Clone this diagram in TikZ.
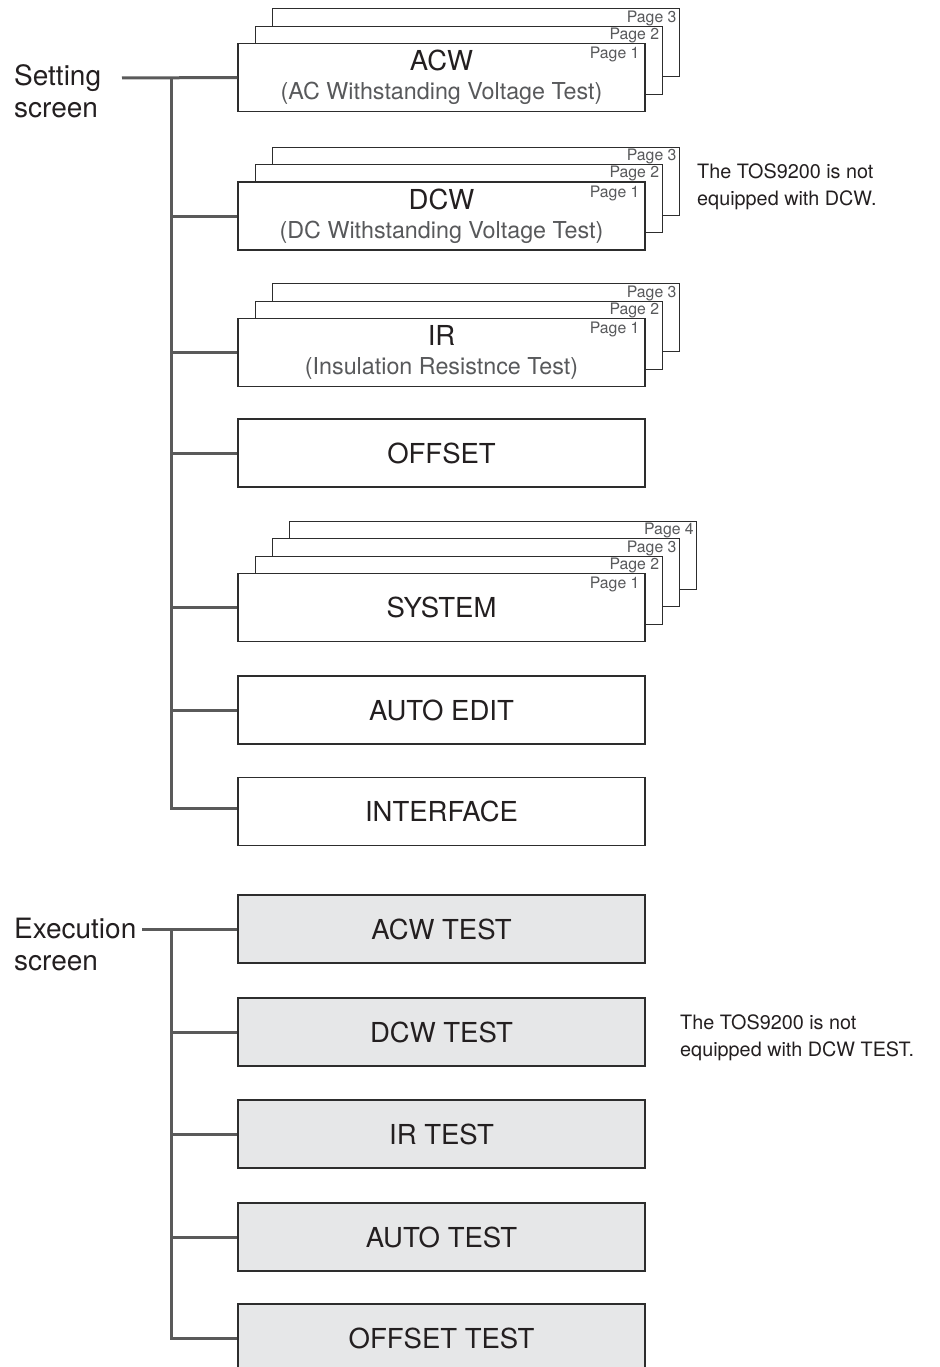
\documentclass[tikz,border=0pt]{standalone}
\usepackage{fontspec}
\setmainfont{TeX Gyre Heros}

\definecolor{linegray}{RGB}{90,90,90}
\definecolor{boxgray}{RGB}{230,231,232}
\definecolor{textdark}{RGB}{35,31,32}
\definecolor{textgray}{RGB}{88,89,91}
\definecolor{edgegray}{RGB}{45,45,45}

\newcommand{\subline}[1]{{\fontsize{23.3}{29}\selectfont\color{textgray}#1}}

\tikzset{
    screenbox/.style={draw=edgegray, line width=1.3pt, fill=white, minimum width=407pt, minimum height=68pt,
        inner sep=0pt, align=center, text=textdark, font=\fontsize{27.5}{29}\selectfont},
    testbox/.style={screenbox, fill=boxgray},
    pagebox/.style={draw=edgegray, line width=1.1pt, fill=white, minimum width=407pt, minimum height=68pt, inner sep=0pt},
    pagelabel/.style={anchor=north east, inner sep=0pt, text=textgray, font=\fontsize{15.8}{15.8}\selectfont},
    trunk/.style={draw=linegray, line width=3pt},
    groupname/.style={anchor=north west, align=left, inner sep=0pt, text=textdark, font=\fontsize{28}{32}\selectfont},
    note/.style={anchor=north west, align=left, inner sep=0pt, text=textdark, font=\fontsize{19.8}{27}\selectfont}
}

\begin{document}
\begin{tikzpicture}[x=1pt,y=-1pt]
    \clip (0,0) rectangle (939,1367);

    % Group names
    \node[groupname] (setting) at (14,64) {Setting\\screen};
    \node[groupname] (execution) at (14,918) {Execution\\screen};

    % Back pages, drawn from the last page forward
    \foreach \s/\y/\n in {acw/77.5/3, dcw/216/3, ir/352.5/3, system/607.5/4}{
        \foreach \p in {\n,...,2}{
            \node[pagebox] (\s-p\p) at ({441.5+17.3*(\p-1)},{\y-17.3*(\p-1)}) {};
            \node[pagelabel] at ([xshift=-3.5pt,yshift=-2pt]\s-p\p.north east) {Page \p};
        }
    }

    % Setting screens
    \node[screenbox] (acw) at (441.5,77.5) {ACW\\\subline{(AC Withstanding Voltage Test)}};
    \node[screenbox] (dcw) at (441.5,216) {DCW\\\subline{(DC Withstanding Voltage Test)}};
    \node[screenbox] (ir) at (441.5,352.5) {IR\\\subline{(Insulation Resistnce Test)}};
    \node[screenbox] (offset) at (441.5,453) {OFFSET};
    \node[screenbox] (system) at (441.5,607.5) {SYSTEM};
    \node[screenbox] (autoedit) at (441.5,710) {AUTO EDIT};
    \node[screenbox] (interface) at (441.5,811.5) {INTERFACE};

    % Page 1 labels
    \foreach \s in {acw,dcw,ir,system}
        \node[pagelabel] at ([xshift=-6pt,yshift=-4pt]\s.north east) {Page 1};

    % Execution screens
    \node[testbox] (acwtest) at (441.5,929) {ACW TEST};
    \node[testbox] (dcwtest) at (441.5,1032) {DCW TEST};
    \node[testbox] (irtest) at (441.5,1134) {IR TEST};
    \node[testbox] (autotest) at (441.5,1237) {AUTO TEST};
    \node[testbox] (offsettest) at (441.5,1338) {OFFSET TEST};

    % Notes
    \node[note] (dcwnote) at (697,164) {The TOS9200 is not\\equipped with DCW.};
    \node[note] (dcwtestnote) at (680,1014) {The TOS9200 is not\\equipped with DCW TEST.};

    % Setting tree
    \coordinate (set-tip) at (122,78);
    \coordinate (set-trunk) at (171,78);
    \draw[trunk] (set-tip) -- (acw.west);
    \draw[trunk] (set-trunk) |- ([yshift=3.5pt]interface.west);
    \foreach \b in {dcw,ir,offset,system,autoedit}
        \draw[trunk] (set-trunk |- \b.west) -- (\b.west);

    % Execution tree
    \coordinate (exe-tip) at (142,929);
    \coordinate (exe-trunk) at (171,929);
    \draw[trunk] (exe-tip) -- (acwtest.west);
    \draw[trunk] (exe-trunk) |- (offsettest.west);
    \foreach \b in {dcwtest,irtest,autotest}
        \draw[trunk] (exe-trunk |- \b.west) -- (\b.west);
\end{tikzpicture}
\end{document}
